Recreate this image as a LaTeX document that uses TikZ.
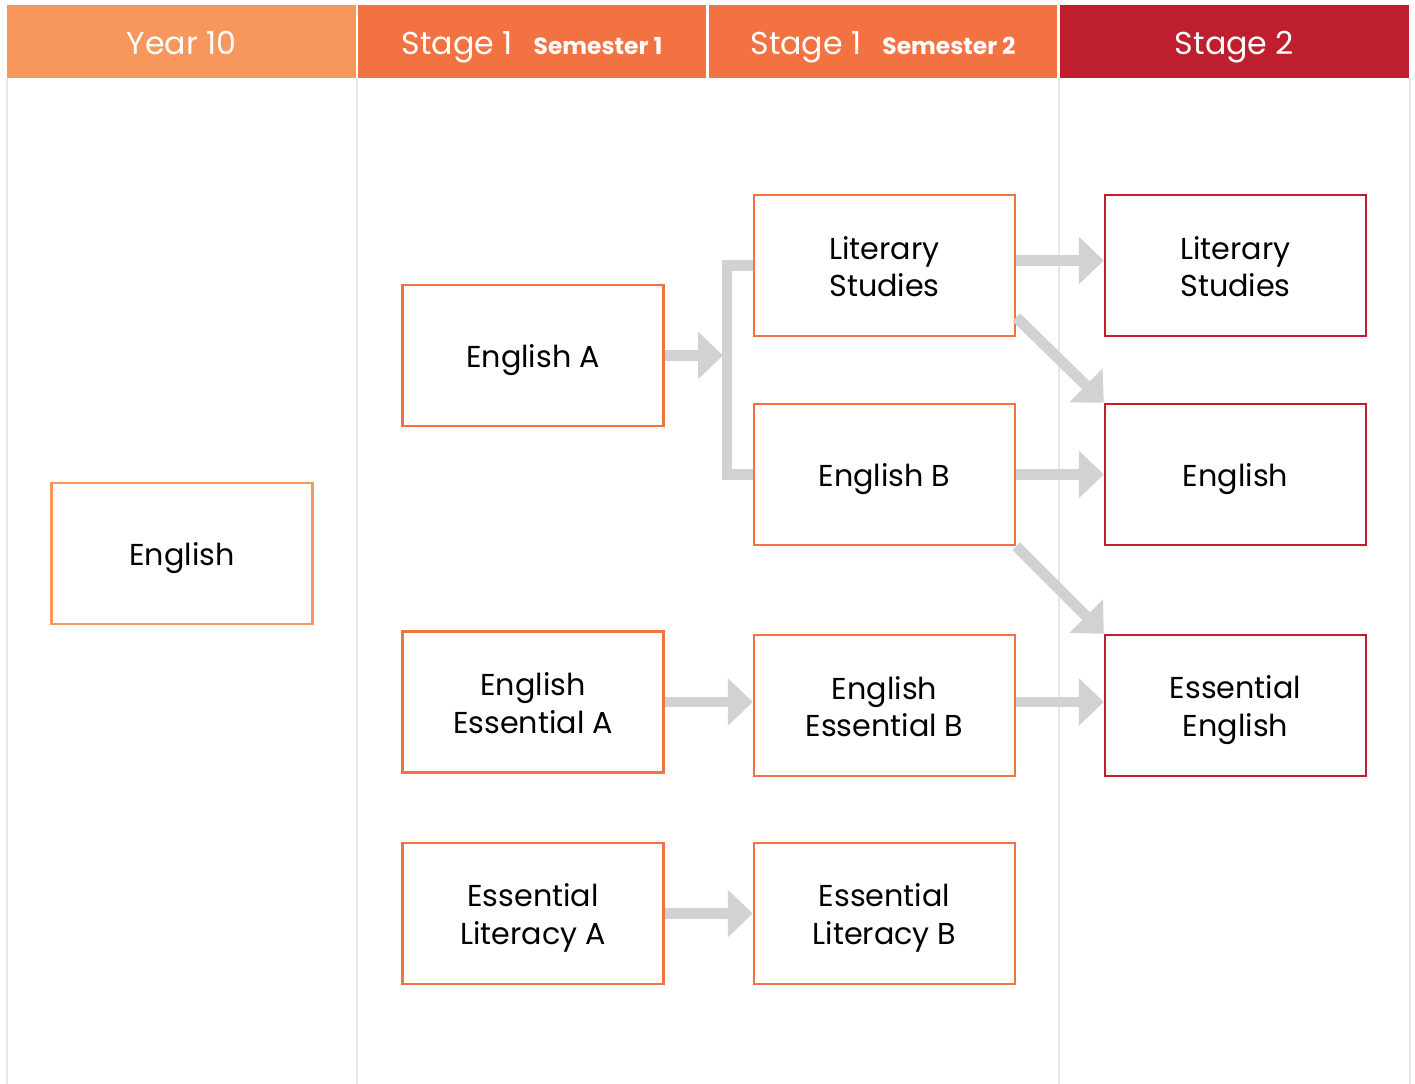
\documentclass[tikz,border=0pt]{standalone}
\usepackage{fontspec}
\setmainfont{Poppins}
\usepackage{xcolor}
\usepackage{tikz}
\usetikzlibrary{positioning, arrows.meta, calc}

\definecolor{yearorange}{HTML}{F8975B}
\definecolor{stageorange}{HTML}{F37242}
\definecolor{stagered}{HTML}{BE1E2D}
\definecolor{flowgray}{HTML}{D1D2D4}
\definecolor{colgray}{HTML}{E6E6E6}

% two lines of box text with fixed top and bottom
\newcommand{\twolines}[2]{\rule{0pt}{18.4pt}#1\\#2\rule[-4.2pt]{0pt}{4.2pt}}

\begin{document}
\begin{tikzpicture}[
  x=0.02cm, y=-0.02cm,
  head/.style={minimum height=1.46cm, inner sep=0pt, text=white,
               text height=15pt, text depth=0pt,
               font=\fontsize{18}{21}\selectfont},
  box/.style={draw, line width=1.4pt, fill=white, minimum width=5.22cm,
              minimum height=2.82cm, align=center, inner sep=0pt,
              font=\fontsize{17.2}{21.5}\selectfont,
              execute at begin node={\rule{0pt}{18.4pt}}},
  yearbox/.style={box, draw=yearorange},
  stagebox/.style={box, draw=stageorange},
  finalbox/.style={box, draw=stagered},
  flow/.style={draw=flowgray, line width=6.2pt,
               -{Triangle[length=14.2pt, width=26.2pt]}},
  forkline/.style={draw=flowgray, line width=5.7pt},
  colline/.style={draw=colgray, line width=1.2pt},
]
  \useasboundingbox (0,0) rectangle (1415,1084);
  \fill[white] (0,0) rectangle (1415,1084);

  % column rules
  \draw[colline] (7,78) -- (7,1084);
  \draw[colline] (357,78) -- (357,1084);
  \draw[colline] (1059,78) -- (1059,1084);
  \draw[colline] (1410,78) -- (1410,1084);

  % header bar
  \node[head, fill=yearorange, minimum width=6.98cm] (h-year) at (181.5,41.5) {Year 10};
  \node[head, fill=stageorange, minimum width=6.96cm] (h-sem1) at (532,41.5)
    {Stage 1\hspace{0.42cm}{\bfseries\fontsize{13.3}{15}\selectfont Semester 1}};
  \node[head, fill=stageorange, minimum width=6.96cm] (h-sem2) at (883,41.5)
    {Stage 1\hspace{0.42cm}{\bfseries\fontsize{13.3}{15}\selectfont Semester 2}};
  \node[head, fill=stagered, minimum width=6.98cm] (h-stage2) at (1234.5,41.5) {Stage 2};

  % arrows first, boxes on top
  \node[stagebox] (engA) at (533,355.5) {English A};
  \node[stagebox] (litS) at (884.5,265.5) {\twolines{Literary}{Studies}};
  \node[stagebox] (engB) at (884.5,474.5) {English B};
  \coordinate (fork) at (723,355.5);
  \draw[flow] (engA.east) -- (fork);
  \draw[forkline] (litS.west) -- ++(-26,0) |- (engB.west);

  % Year 10 column
  \node[yearbox] (eng10) at (182,553.5) {English};

  % Stage 1 semester 1
  \node[stagebox] (essA) at (533,702) {\twolines{English}{Essential A}};
  \node[stagebox] (litA) at (533,913.5) {\twolines{Essential}{Literacy A}};

  % Stage 1 semester 2
  \node[stagebox] (essB) at (884.5,705.5) {\twolines{English}{Essential B}};
  \node[stagebox] (litB) at (884.5,913.5) {\twolines{Essential}{Literacy B}};

  % Stage 2 column
  \node[finalbox] (litT) at (1235.5,265.5) {\twolines{Literary}{Studies}};
  \node[finalbox] (engT) at (1235.5,474.5) {English};
  \node[finalbox] (essT) at (1235.5,705.5) {\twolines{Essential}{English}};

  % pathways
  \draw[flow] ([yshift=0.1cm]litS.east) -- ([yshift=0.1cm]litT.west);
  \draw[flow] ([yshift=0.4cm]litS.south east) -- (engT.north west);
  \draw[flow] (engB.east) -- (engT.west);
  \draw[flow] (engB.south east) -- (essT.north west);
  \draw[flow] (essA.east) -- (essA.east -| essB.west);
  \draw[flow] ([yshift=0.07cm]essB.east) -- ([yshift=0.07cm]essT.west);
  \draw[flow] (litA.east) -- (litB.west);
\end{tikzpicture}
\end{document}
